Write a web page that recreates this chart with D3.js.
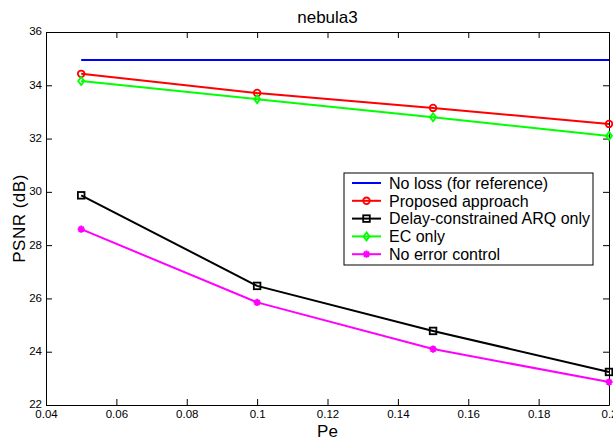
<!DOCTYPE html>
<html>
<head>
<meta charset="utf-8">
<script src="https://cdn.jsdelivr.net/npm/d3@7"></script>
<style>
	body { margin: 0; background: #fff; }
	svg { display: block; font-family: "Liberation Sans", Arial, sans-serif; }
</style>
</head>
<body>
<div id="chart-box"></div>
<script>
// DATA
const pe = [0.05, 0.1, 0.15, 0.2];
const noLoss = [34.95, 34.95, 34.95, 34.95];
const proposed = [34.43, 33.71, 33.15, 32.55];
const arqOnly = [29.87, 26.47, 24.78, 23.24];
const ecOnly = [34.16, 33.48, 32.80, 32.10];
const noControl = [28.60, 25.85, 24.10, 22.86];
const xTicks = [0.04, 0.06, 0.08, 0.1, 0.12, 0.14, 0.16, 0.18, 0.2];
const yTicks = [22, 24, 26, 28, 30, 32, 34, 36];

const series = [
	{ name: "No loss (for reference)", values: noLoss, color: "#0000ff", marker: "none" },
	{ name: "Proposed approach", values: proposed, color: "#ff0000", marker: "circle" },
	{ name: "Delay-constrained ARQ only", values: arqOnly, color: "#000000", marker: "square" },
	{ name: "EC only", values: ecOnly, color: "#00ff00", marker: "diamond" },
	{ name: "No error control", values: noControl, color: "#ff00ff", marker: "star" }
];


// SVG DIMENSIONS
const width = 613, height = 441;
const margin = { top: 32, right: 4, bottom: 36, left: 46 };
const svg = d3.select("#chart-box")
	.append("svg")
	.attr("width", width)
	.attr("height", height);

const x = d3.scaleLinear().domain([0.04, 0.2]).range([margin.left, width - margin.right]);
const y = d3.scaleLinear().domain([22, 36]).range([height - margin.bottom, margin.top]);


// AXES (ticks inward, MATLAB style)
const tickLen = 6;
svg.append("g")
	.attr("transform", `translate(0,${y(22)})`)
	.call(d3.axisBottom(x).tickValues(xTicks).tickSizeInner(-tickLen).tickSizeOuter(0)
		.tickFormat(d => d === 0.1 ? "0.1" : d === 0.2 ? "0.2" : d3.format(".2f")(d)))
	.call(g => g.selectAll("text").attr("dy", "0.85em").attr("font-size", 11.5))
	.call(g => g.select(".domain").attr("stroke", "#000"));
svg.append("g")
	.attr("transform", `translate(0,${y(36)})`)
	.call(d3.axisTop(x).tickValues(xTicks).tickSizeInner(-tickLen).tickSizeOuter(0).tickFormat(""));
svg.append("g")
	.attr("transform", `translate(${x(0.04)},0)`)
	.call(d3.axisLeft(y).tickValues(yTicks).tickSizeInner(-tickLen).tickSizeOuter(0))
	.call(g => g.selectAll("text").attr("x", -4).attr("dy", "0.25em").attr("font-size", 11.5));
svg.append("g")
	.attr("transform", `translate(${x(0.2)},0)`)
	.call(d3.axisRight(y).tickValues(yTicks).tickSizeInner(-tickLen).tickSizeOuter(0).tickFormat(""));
svg.selectAll(".tick line").attr("stroke", "#000");
svg.selectAll(".tick text").attr("fill", "#000");


// LABELS
svg.append("text")
	.attr("x", (x(0.04) + x(0.2)) / 2).attr("y", 23)
	.attr("text-anchor", "middle").attr("font-size", 17)
	.text("nebula3");
svg.append("text")
	.attr("x", (x(0.04) + x(0.2)) / 2).attr("y", 437)
	.attr("text-anchor", "middle").attr("font-size", 17)
	.text("Pe");
svg.append("text")
	.attr("transform", `translate(25,${(y(22) + y(36)) / 2}) rotate(-90)`)
	.attr("text-anchor", "middle").attr("font-size", 17)
	.attr("letter-spacing", 0.5)
	.text("PSNR (dB)");


// MARKERS
function drawMarker(g, type, color, cx, cy) {
	if (type === "circle") {
		g.append("circle").attr("cx", cx).attr("cy", cy).attr("r", 3.3)
			.attr("fill", "none").attr("stroke", color).attr("stroke-width", 1.8);
	} else if (type === "square") {
		g.append("rect").attr("x", cx - 3.3).attr("y", cy - 3.3).attr("width", 6.6).attr("height", 6.6)
			.attr("fill", "none").attr("stroke", color).attr("stroke-width", 1.8);
	} else if (type === "diamond") {
		g.append("path").attr("d", `M${cx},${cy - 4}L${cx + 3},${cy}L${cx},${cy + 4}L${cx - 3},${cy}Z`)
			.attr("fill", "none").attr("stroke", color).attr("stroke-width", 1.8);
	} else if (type === "star") {
		const r = 3.6;
		const d = [0, 45, 90, 135].map(a => {
			const t = a * Math.PI / 180;
			return `M${cx - r * Math.cos(t)},${cy - r * Math.sin(t)}L${cx + r * Math.cos(t)},${cy + r * Math.sin(t)}`;
		}).join("");
		g.append("path").attr("d", d).attr("stroke", color).attr("stroke-width", 2);
	}
}


// DRAW LINES
const line = d3.line().x((d, i) => x(pe[i])).y(d => y(d));
const plot = svg.append("g");
series.forEach(s => {
	plot.append("path")
		.datum(s.values)
		.attr("d", line)
		.attr("fill", "none")
		.attr("stroke", s.color)
		.attr("stroke-width", 2);
	s.values.forEach((v, i) => drawMarker(plot, s.marker, s.color, x(pe[i]), y(v)));
});


// LEGEND
const lg = svg.append("g").attr("transform", "translate(344,173)");
lg.append("rect").attr("width", 249).attr("height", 92)
	.attr("fill", "#fff").attr("stroke", "#000").attr("stroke-width", 1);
series.forEach((s, i) => {
	const ly = 10 + i * 17.8;
	lg.append("line").attr("x1", 8).attr("x2", 37).attr("y1", ly).attr("y2", ly)
		.attr("stroke", s.color).attr("stroke-width", 2);
	drawMarker(lg, s.marker, s.color, 22.5, ly);
	lg.append("text").attr("x", 45).attr("y", ly).attr("dy", "0.36em")
		.attr("font-size", 16).text(s.name);
});
</script>
</body>
</html>
